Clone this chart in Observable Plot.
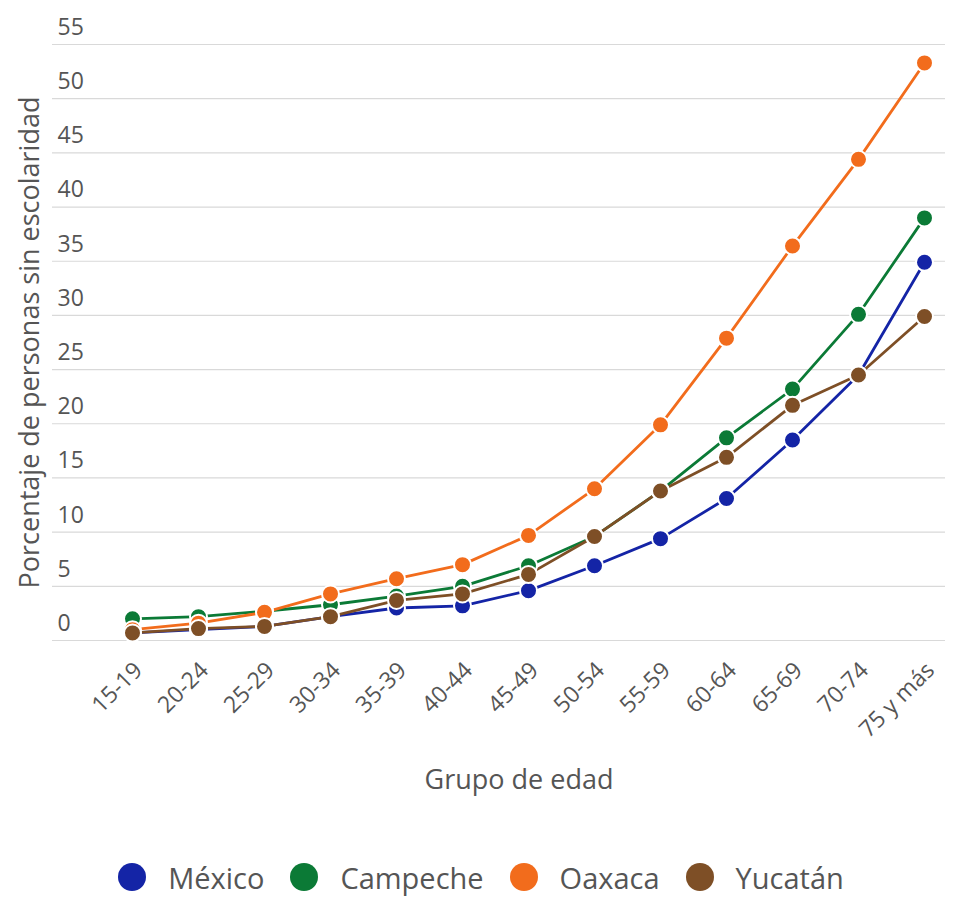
<!DOCTYPE html>
<html>
<head>
<meta charset="utf-8">
<script src="https://cdn.jsdelivr.net/npm/d3@7"></script>
<script src="https://cdn.jsdelivr.net/npm/@observablehq/plot@0.6"></script>
<style>
  html, body { margin: 0; padding: 0; background: #fff; }
  body { width: 958px; height: 898px; overflow: hidden; font-family: "Open Sans", sans-serif; }
  #chart svg { display: block; }
  #legend { display: flex; justify-content: center; align-items: center; height: 50px; margin-left: 4px; }
  .item { display: flex; align-items: center; margin: 0 13px; font-size: 29px; color: #555; }
  .sw { width: 28px; height: 28px; border-radius: 50%; margin-right: 22px; }
</style>
</head>
<body>
<div id="chart"></div>
<div id="legend"></div>
<script>
const grupos = ["15-19","20-24","25-29","30-34","35-39","40-44","45-49","50-54","55-59","60-64","65-69","70-74","75 y más"];
const series = ["México","Campeche","Oaxaca","Yucatán"];
const colores = ["#1424a6","#0b7a36","#f26c1c","#7e4f26"];
const mexico   = [0.7, 1.0, 1.3, 2.2, 3.0, 3.2, 4.6, 6.9, 9.4, 13.1, 18.5, 24.5, 34.9];
const campeche = [2.0, 2.2, 2.7, 3.3, 4.1, 5.0, 6.9, 9.6, 13.8, 18.7, 23.2, 30.1, 39.0];
const oaxaca   = [1.0, 1.6, 2.6, 4.3, 5.7, 7.0, 9.7, 14.0, 19.9, 27.9, 36.4, 44.4, 53.3];
const yucatan  = [0.7, 1.1, 1.3, 2.2, 3.7, 4.3, 6.1, 9.6, 13.8, 16.9, 21.7, 24.5, 29.9];
const yTicks = [0,5,10,15,20,25,30,35,40,45,50,55];

const valores = [mexico, campeche, oaxaca, yucatan];
const data = [];
series.forEach((s, i) => grupos.forEach((g, j) => data.push({serie: s, grupo: g, valor: valores[i][j]})));

const W = 958, H = 852;
const chart = Plot.plot({
  width: W,
  height: H,
  marginLeft: 52,
  marginRight: 13,
  marginTop: 44,
  marginBottom: H - 640,
  style: {fontFamily: "Open Sans, sans-serif", background: "#fff"},
  x: {type: "point", domain: grupos, range: [130, 925], padding: 0, axis: null},
  y: {domain: [0, 55], range: [640, 44], axis: null},
  color: {domain: series, range: colores},
  marks: [
    Plot.ruleY(yTicks, {stroke: "#d9d9d9", strokeWidth: 1.2}),
    Plot.text(yTicks, {y: d => d, text: d => String(d), frameAnchor: "left", textAnchor: "start", lineAnchor: "middle", dx: 5, dy: -17, fontSize: 23, fill: "#555"}),
    Plot.text(["Porcentaje de personas sin escolaridad"], {y: 27.5, frameAnchor: "left", textAnchor: "middle", lineAnchor: "middle", dx: -22, rotate: -90, fontSize: 27, fill: "#555", text: d => d}),
    Plot.text(grupos, {x: d => d, text: d => d, frameAnchor: "bottom", dy: 26, dx: 6, rotate: -45, textAnchor: "end", lineAnchor: "middle", fontSize: 23, fill: "#555"}),
    Plot.text(["Grupo de edad"], {frameAnchor: "bottom", textAnchor: "middle", lineAnchor: "middle", dy: 140, dx: 20, text: d => d, fontSize: 27, fill: "#555"}),
    Plot.line(data, {x: "grupo", y: "valor", z: "serie", stroke: "serie", strokeWidth: 2.8}),
    Plot.dot(data, {x: "grupo", y: "valor", fill: "serie", stroke: "white", strokeWidth: 2, r: 8.5})
  ]
});
document.getElementById("chart").appendChild(chart);

const leg = document.getElementById("legend");
series.forEach((s, i) => {
  const it = document.createElement("div");
  it.className = "item";
  const sw = document.createElement("span");
  sw.className = "sw";
  sw.style.background = colores[i];
  const t = document.createElement("span");
  t.textContent = s;
  it.appendChild(sw); it.appendChild(t);
  leg.appendChild(it);
});
</script>
</body>
</html>
